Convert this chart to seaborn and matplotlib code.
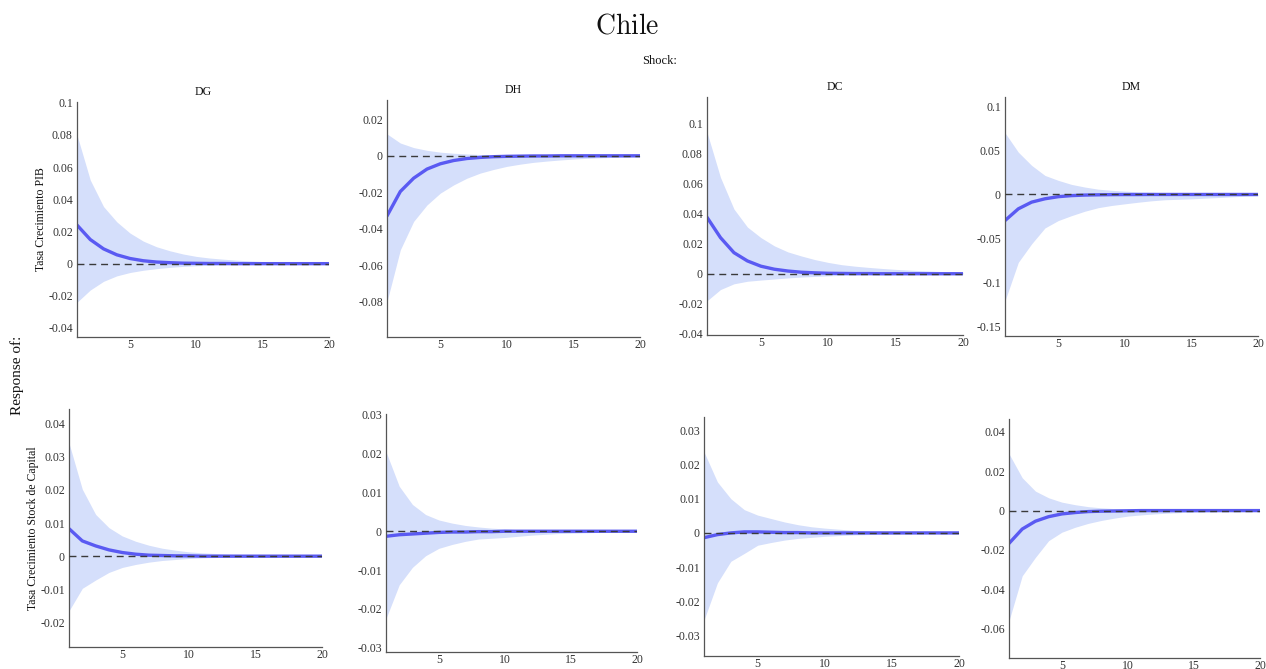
import numpy as np
import pandas as pd
import matplotlib
matplotlib.use("Agg")
import matplotlib.pyplot as plt
import seaborn as sns

# Horizons of the impulse responses
horizon = list(range(1, 21))

shocks = ["DG", "DH", "DC", "DM"]
responses = ["Tasa Crecimiento PIB", "Tasa Crecimiento Stock de Capital"]

# --- Response of GDP growth -------------------------------------------------
pib_dg_med = [0.024, 0.015, 0.0092, 0.0055, 0.0032, 0.0018, 0.001, 0.0006, 0.0003, 0.0002,
              0.0001, 0.0001, 0, 0, 0, 0, 0, 0, 0, 0]
pib_dg_up = [0.080, 0.052, 0.0355, 0.026, 0.019, 0.014, 0.0105, 0.008, 0.006, 0.0045,
             0.0035, 0.0028, 0.0022, 0.0017, 0.0013, 0.001, 0.0008, 0.0006, 0.0005, 0.0004]
pib_dg_lo = [-0.024, -0.0164, -0.011, -0.0076, -0.0055, -0.0041, -0.0031, -0.0023, -0.0017, -0.0013,
             -0.001, -0.0008, -0.0006, -0.0005, -0.0004, -0.0003, -0.0002, -0.0002, -0.0001, -0.0001]

pib_dh_med = [-0.033, -0.0196, -0.0123, -0.0073, -0.0044, -0.0026, -0.0015, -0.0009, -0.0005, -0.0003,
              -0.0002, -0.0001, -0.0001, 0, 0, 0, 0, 0, 0, 0]
pib_dh_up = [0.012, 0.007, 0.0045, 0.003, 0.002, 0.0014, 0.001, 0.0007, 0.0005, 0.0003,
             0.0002, 0.0002, 0.0001, 0.0001, 0.0001, 0, 0, 0, 0, 0]
pib_dh_lo = [-0.080, -0.0516, -0.036, -0.027, -0.0205, -0.016, -0.0123, -0.0095, -0.0075, -0.0058,
             -0.0046, -0.0036, -0.0029, -0.0023, -0.0018, -0.0014, -0.0011, -0.0009, -0.0007, -0.0005]

pib_dc_med = [0.0375, 0.024, 0.014, 0.0085, 0.005, 0.003, 0.0018, 0.001, 0.0006, 0.0003,
              0.0002, 0.0001, 0.0001, 0, 0, 0, 0, 0, 0, 0]
pib_dc_up = [0.094, 0.064, 0.043, 0.031, 0.024, 0.0185, 0.0145, 0.0118, 0.0094, 0.0075,
             0.006, 0.005, 0.0042, 0.0035, 0.0029, 0.0024, 0.002, 0.0016, 0.0013, 0.001]
pib_dc_lo = [-0.018, -0.0105, -0.0067, -0.005, -0.0042, -0.0035, -0.0028, -0.0022, -0.0018, -0.0014,
             -0.0011, -0.0009, -0.0008, -0.0007, -0.0006, -0.0005, -0.0004, -0.0003, -0.0003, -0.0002]

pib_dm_med = [-0.0296, -0.0163, -0.0087, -0.0049, -0.0025, -0.0013, -0.0007, -0.0004, -0.0002, -0.0001,
              -0.0001, 0, 0, 0, 0, 0, 0, 0, 0, 0]
pib_dm_up = [0.070, 0.048, 0.033, 0.0216, 0.016, 0.0114, 0.0084, 0.006, 0.0047, 0.0038,
             0.003, 0.0024, 0.0019, 0.0014, 0.001, 0.0008, 0.0006, 0.0005, 0.0004, 0.0003]
pib_dm_lo = [-0.1207, -0.077, -0.056, -0.038, -0.0296, -0.024, -0.019, -0.015, -0.0125, -0.0106,
             -0.0088, -0.0072, -0.006, -0.0055, -0.005, -0.0042, -0.0035, -0.0027, -0.002, -0.0015]

# --- Response of capital stock growth ---------------------------------------
k_dg_med = [0.0083, 0.0046, 0.0031, 0.0019, 0.0011, 0.0006, 0.0003, 0.0002, 0.0001, 0.0001,
            0, 0, 0, 0, 0, 0, 0, 0, 0, 0]
k_dg_up = [0.0341, 0.0202, 0.0126, 0.0086, 0.0061, 0.0045, 0.0033, 0.0024, 0.0018, 0.0013,
           0.001, 0.0008, 0.0006, 0.0005, 0.0003, 0.0002, 0.0002, 0.0001, 0.0001, 0.0001]
k_dg_lo = [-0.0165, -0.0097, -0.0072, -0.0049, -0.0034, -0.0025, -0.0018, -0.0013, -0.001, -0.0007,
           -0.0005, -0.0004, -0.0003, -0.0003, -0.0002, -0.0002, -0.0001, -0.0001, -0.0001, -0.0001]

k_dh_med = [-0.0013, -0.0009, -0.0007, -0.0005, -0.0003, -0.0002, -0.0002, -0.0001, -0.0001, 0,
            0, 0, 0, 0, 0, 0, 0, 0, 0, 0]
k_dh_up = [0.0205, 0.0116, 0.0069, 0.0043, 0.0029, 0.0021, 0.0015, 0.0011, 0.0008, 0.0006,
           0.0004, 0.0003, 0.0002, 0.0002, 0.0001, 0.0001, 0.0001, 0, 0, 0]
k_dh_lo = [-0.0225, -0.0138, -0.0093, -0.0063, -0.0044, -0.0034, -0.0026, -0.002, -0.0018, -0.0016,
           -0.0013, -0.001, -0.0008, -0.0006, -0.0005, -0.0004, -0.0003, -0.0002, -0.0002, -0.0001]

k_dc_med = [-0.0014, -0.0005, 0, 0.0003, 0.0003, 0.0002, 0.0001, 0.0001, 0, 0,
            0, 0, 0, 0, 0, 0, 0, 0, 0, 0]
k_dc_up = [0.0237, 0.0149, 0.01, 0.0068, 0.0052, 0.0042, 0.0032, 0.0024, 0.0018, 0.0014,
           0.0011, 0.0008, 0.0006, 0.0005, 0.0004, 0.0003, 0.0002, 0.0002, 0.0001, 0.0001]
k_dc_lo = [-0.0255, -0.0146, -0.0083, -0.006, -0.0036, -0.0028, -0.0021, -0.0016, -0.0013, -0.001,
           -0.0008, -0.0006, -0.0005, -0.0004, -0.0003, -0.0002, -0.0002, -0.0001, -0.0001, -0.0001]

k_dm_med = [-0.0167, -0.0094, -0.0054, -0.0031, -0.0017, -0.001, -0.0005, -0.0003, -0.0002, -0.0001,
            0, 0, 0, 0, 0, 0, 0, 0, 0, 0]
k_dm_up = [0.0289, 0.0167, 0.0099, 0.0065, 0.0043, 0.003, 0.002, 0.0014, 0.001, 0.0007,
           0.0005, 0.0004, 0.0003, 0.0002, 0.0001, 0.0001, 0.0001, 0, 0, 0]
k_dm_lo = [-0.0561, -0.0332, -0.0238, -0.0153, -0.011, -0.0085, -0.0065, -0.005, -0.0038, -0.0028,
           -0.0022, -0.0017, -0.0013, -0.001, -0.0008, -0.0006, -0.0004, -0.0003, -0.0002, -0.0002]

panels = [
    [(pib_dg_med, pib_dg_lo, pib_dg_up), (pib_dh_med, pib_dh_lo, pib_dh_up),
     (pib_dc_med, pib_dc_lo, pib_dc_up), (pib_dm_med, pib_dm_lo, pib_dm_up)],
    [(k_dg_med, k_dg_lo, k_dg_up), (k_dh_med, k_dh_lo, k_dh_up),
     (k_dc_med, k_dc_lo, k_dc_up), (k_dm_med, k_dm_lo, k_dm_up)],
]

# y tick sets (start, stop, step) per panel
yticks_spec = [
    [(-0.04, 0.10, 0.02), (-0.08, 0.02, 0.02), (-0.04, 0.10, 0.02), (-0.15, 0.10, 0.05)],
    [(-0.02, 0.04, 0.01), (-0.03, 0.03, 0.01), (-0.03, 0.03, 0.01), (-0.06, 0.04, 0.02)],
]
ylims = [
    [(-0.0456, 0.1005), (-0.0994, 0.0306), (-0.0407, 0.1174), (-0.1606, 0.1106)],
    [(-0.0274, 0.0444), (-0.0311, 0.0302), (-0.0360, 0.0339), (-0.0750, 0.0466)],
]
# axes boxes in pixels: left, top, right, bottom
boxes = [
    [(77, 102, 329, 337), (387, 100, 640, 337), (707, 97, 963, 335), (1005, 97, 1258, 336)],
    [(69, 409, 322, 647), (386, 414, 637, 652), (704, 417, 959, 656), (1009, 419, 1260, 658)],
]

W, H = 1266, 669
sns.set_style("white")
plt.rcParams["font.family"] = ["Liberation Serif", "DejaVu Serif"]
plt.rcParams["mathtext.fontset"] = "cm"
plt.rcParams["axes.unicode_minus"] = False

line_color = "#5a5af2"
band_color = "#d5dffb"
axis_color = "#555555"
text_color = "#333333"

fig = plt.figure(figsize=(W / 100, H / 100), dpi=100)

for r in range(2):
    for c in range(4):
        l, t, rt, b = boxes[r][c]
        ax = fig.add_axes([l / W, (H - b) / H, (rt - l) / W, (b - t) / H])
        med, lo, up = panels[r][c]
        df = pd.DataFrame({"h": horizon, "med": med, "lo": lo, "up": up})
        ax.fill_between(df["h"], df["lo"], df["up"], color=band_color, linewidth=0, zorder=1)
        sns.lineplot(data=df, x="h", y="med", ax=ax, color=line_color, linewidth=2.4, zorder=2)
        ax.axhline(0, color="#3a3a3a", linewidth=1.0, linestyle=(0, (5, 3.5)), zorder=3)

        ax.set_xlim(1, 20)
        ax.set_ylim(*ylims[r][c])
        ax.set_xticks([5, 10, 15, 20])
        s0, s1, st = yticks_spec[r][c]
        ticks = np.round(np.arange(s0, s1 + st / 2, st), 4)
        ax.set_yticks(ticks)
        ax.set_yticklabels([f"{v:g}" for v in ticks])
        ax.set_xlabel("")
        ax.set_ylabel("")
        sns.despine(ax=ax)
        for sp in ("left", "bottom"):
            ax.spines[sp].set_color(axis_color)
            ax.spines[sp].set_linewidth(0.9)
        ax.tick_params(direction="in", length=3, width=0.8, color=axis_color,
                       labelsize=8.5, labelcolor=text_color, pad=3)
        ax.tick_params(axis="x", pad=1.5)
        if r == 0:
            ax.set_title(shocks[c], fontsize=8.5, pad=5, color="#111111")
        if c == 0:
            ax.set_ylabel(responses[r], fontsize=8.5, color="#111111", labelpad=1)

fig.text(627 / W, 1 - 27 / H, r"$\mathrm{Chile}$", ha="center", va="center", fontsize=20, color="#111111")
fig.text(660 / W, 1 - 61 / H, "Shock:", ha="center", va="center", fontsize=9, color="#111111")
fig.text(17 / W, 1 - 375 / H, "Response of:", ha="center", va="center", rotation=90,
         fontsize=11, color="#111111")

fig.savefig("out.png", dpi=100)
